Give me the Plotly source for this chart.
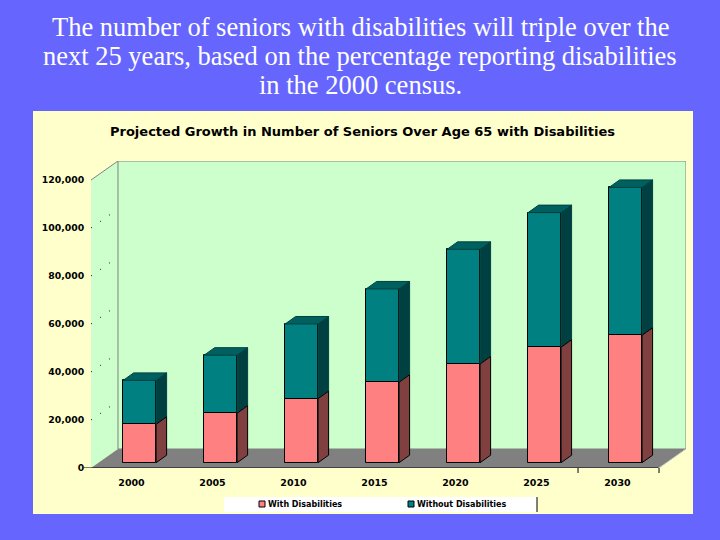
import plotly.graph_objects as go

YEARS = ["2000", "2005", "2010", "2015", "2020", "2025", "2030"]
WITH_DISABILITIES = [16000, 20600, 26700, 33500, 41100, 48100, 53100]
WITHOUT_DISABILITIES = [18300, 24200, 31100, 38900, 47800, 56100, 61600]
Y_TICKS = [0, 20000, 40000, 60000, 80000, 100000, 120000]
Y_LABELS = ["0", "20,000", "40,000", "60,000", "80,000", "100,000", "120,000"]

HEADLINE = [
    "The number of seniors with disabilities will triple over the",
    "next 25 years, based on the percentage reporting disabilities",
    "in the 2000 census.",
]
CHART_TITLE = "Projected Growth in Number of Seniors Over Age 65 with Disabilities"
LEGEND_NAMES = ["With Disabilities", "Without Disabilities"]
RED, TEAL = "#FF8080", "#008080"

# plot area in window pixels
L, R, T, B = 91, 686, 161, 468
X_MIN, X_MAX = -0.5, 6.846
Y_MAX = 127917
FLOOR_X, FLOOR_Y = 0.333, 7917      # depth of the box, axis units
BAR_X, BAR_Y = 0.13, 3125           # depth of a bar, axis units
BAR_SHIFT, BAR_LIFT = 0.1, 2208     # bars stand part way back on the floor
BAR_W = 0.407
BLACK = "#000000"


def px(x):
    return (x - L) / (R - L)


def py(y):
    return (B - y) / (B - T)


def polygon(xs, ys, color, line=None):
    return go.Scatter(
        x=xs + xs[:1], y=ys + ys[:1], mode="lines", fill="toself", fillcolor=color,
        line=dict(color=line or color, width=1), showlegend=False, hoverinfo="skip",
    )


def path(points):
    return "M " + " L ".join(f"{x},{y}" for x, y in points) + " Z"


xs = [i + BAR_SHIFT for i in range(len(YEARS))]
lows = [BAR_LIFT + v for v in WITH_DISABILITIES]
tops = [a + b for a, b in zip(lows, WITHOUT_DISABILITIES)]

fig = go.Figure()
fig.add_trace(go.Bar(x=xs, y=WITH_DISABILITIES, base=[BAR_LIFT] * 7, width=BAR_W, name=LEGEND_NAMES[0],
                     marker=dict(color=RED, line=dict(color=BLACK, width=1))))
fig.add_trace(go.Bar(x=xs, y=WITHOUT_DISABILITIES, base=lows, width=BAR_W, name=LEGEND_NAMES[1],
                     marker=dict(color=TEAL, line=dict(color=BLACK, width=1))))

# side and top faces of each bar
for x, low, top in zip(xs, lows, tops):
    right = x + BAR_W / 2
    left = x - BAR_W / 2
    fig.add_trace(polygon([right, right + BAR_X, right + BAR_X, right],
                          [low, low + BAR_Y, top + BAR_Y, top], "#004040"))
    fig.add_trace(polygon([right, right + BAR_X, right + BAR_X, right],
                          [BAR_LIFT, BAR_LIFT + BAR_Y, low + BAR_Y, low], "#804040", BLACK))
    fig.add_trace(polygon([left, left + BAR_X, right + BAR_X, right],
                          [top, top + BAR_Y, top + BAR_Y, top], "#006060", "#004040"))

back_x = X_MIN + FLOOR_X
front_r = X_MAX - FLOOR_X
shapes = [
    dict(type="rect", xref="paper", yref="paper", x0=px(33), x1=px(693), y0=py(514), y1=py(111),
         fillcolor="#FFFFCC", line=dict(width=0), layer="below"),
    dict(type="path", path=path([(X_MIN, 0), (back_x, FLOOR_Y), (back_x, Y_MAX), (X_MIN, 120000)]),
         fillcolor="#CCFFCC", line=dict(width=0), layer="below"),
    dict(type="rect", x0=back_x, x1=X_MAX, y0=FLOOR_Y, y1=Y_MAX,
         fillcolor="#CCFFCC", line=dict(color="#808080", width=1), layer="below"),
    dict(type="path", path=path([(X_MIN, 0), (back_x, FLOOR_Y), (X_MAX, FLOOR_Y), (front_r, 0)]),
         fillcolor="#808080", line=dict(width=0), layer="below"),
    dict(type="line", x0=X_MIN, x1=back_x, y0=120000, y1=Y_MAX, line=dict(color="#808080", width=1), layer="below"),
    dict(type="line", x0=front_r, x1=X_MAX, y0=0, y1=FLOOR_Y, line=dict(color="#CCCCCC", width=1), layer="below"),
    # front floor edge with its stub ticks
    dict(type="line", xref="paper", x0=px(84), x1=px(658), yref="y", y0=0, y1=0, line=dict(color=BLACK, width=1)),
    dict(type="line", x0=front_r, x1=front_r, yref="paper", y0=py(468), y1=py(473), line=dict(color=BLACK, width=1)),
    dict(type="line", x0=front_r - 1, x1=front_r - 1, yref="paper", y0=py(468), y1=py(473), line=dict(color=BLACK, width=1)),
    # legend box and swatches
    dict(type="rect", xref="paper", yref="paper", x0=px(224), x1=px(537), y0=py(512), y1=py(497),
         fillcolor="#FFFFFF", line=dict(width=0), layer="below"),
    dict(type="line", xref="paper", yref="paper", x0=px(537), x1=px(537), y0=py(497), y1=py(512), line=dict(color=BLACK, width=1)),
    dict(type="rect", xref="paper", yref="paper", x0=px(259), x1=px(265), y0=py(507), y1=py(501),
         fillcolor=RED, line=dict(color=BLACK, width=1)),
    dict(type="rect", xref="paper", yref="paper", x0=px(408), x1=px(414), y0=py(507), y1=py(501),
         fillcolor=TEAL, line=dict(color=BLACK, width=1)),
]
# faint dotted gridlines across the side wall
for v in Y_TICKS[1:-1]:
    shapes.append(dict(type="line", x0=X_MIN, x1=back_x, y0=v, y1=v + FLOOR_Y, layer="below",
                       line=dict(color=BLACK, width=1, dash="1px,10px")))

annotations = [
    dict(text=t, xref="paper", yref="paper", x=px(360), y=py(27 + 29 * i), xanchor="center", yanchor="middle",
         showarrow=False, font=dict(family="Liberation Serif", size=26.5, color="#FFFFFF"))
    for i, t in enumerate(HEADLINE)
]
annotations.append(dict(text=f"<b>{CHART_TITLE}</b>", xref="paper", yref="paper", x=px(362), y=py(131),
                        xanchor="center", yanchor="middle", showarrow=False,
                        font=dict(family="DejaVu Sans", size=13, color=BLACK)))
for name, left in zip(LEGEND_NAMES, [268, 417]):
    annotations.append(dict(text=f"<b>{name}</b>", xref="paper", yref="paper", x=px(left), y=py(504),
                            xanchor="left", yanchor="middle", showarrow=False, xshift=-1,
                            borderpad=0, font=dict(family="DejaVu Sans", size=8, color=BLACK)))

fig.update_layout(
    width=720, height=540,
    autosize=False,
    showlegend=False,
    paper_bgcolor="#6666FF",
    plot_bgcolor="rgba(0,0,0,0)",
    margin=dict(l=L, r=720 - R, t=T, b=540 - B),
    barmode="overlay",
    bargap=0,
    shapes=shapes,
    annotations=annotations,
    font=dict(family="DejaVu Sans", color=BLACK),
    xaxis=dict(
        range=[X_MIN, X_MAX], tickvals=list(range(7)), ticktext=[f"<b>{y}</b>" for y in YEARS],
        showgrid=False, zeroline=False, showline=False, ticks="outside", ticklen=6,
        tickcolor="rgba(0,0,0,0)", tickfont=dict(size=9.5),
    ),
    yaxis=dict(
        range=[0, Y_MAX], tickvals=Y_TICKS, ticktext=[f"<b>{y}</b>" for y in Y_LABELS],
        showgrid=False, zeroline=False, showline=False, ticks="outside", ticklen=4,
        tickcolor="rgba(0,0,0,0)", tickfont=dict(size=9.3),
    ),
)

# page default margin would push the chart 8px in
fig.write_html("out.html", config=dict(displayModeBar=False),
               post_script="document.body.style.margin='0';document.body.style.overflow='hidden';")
